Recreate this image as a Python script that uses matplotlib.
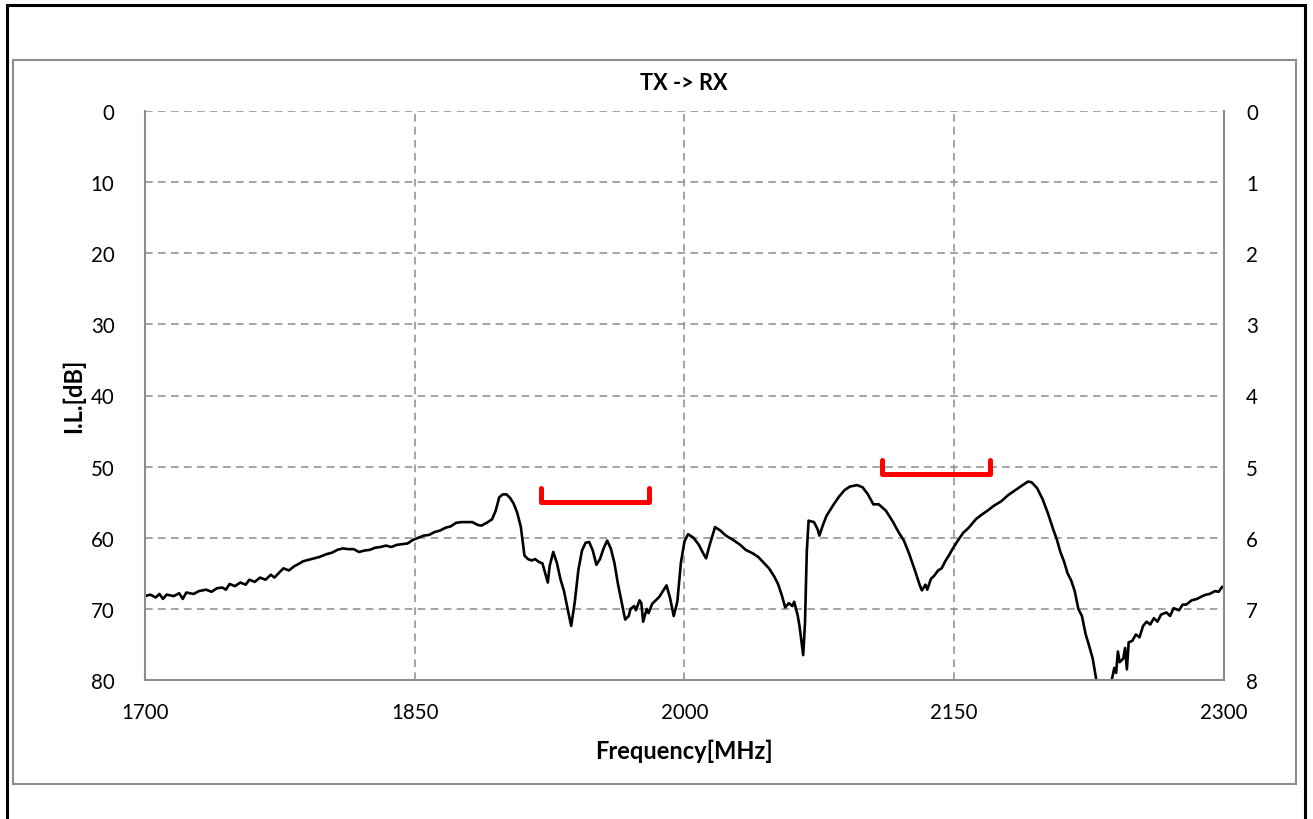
import matplotlib
matplotlib.use("Agg")
import matplotlib.pyplot as plt
from matplotlib.patches import Rectangle

# measured curve, TX -> RX insertion loss
freq = [1700, 1703, 1706, 1708, 1710, 1712, 1716, 1719, 1721, 1723, 1727, 1730, 1734, 1737,
        1740, 1743, 1745, 1747, 1750, 1753, 1756, 1758, 1761, 1764, 1767, 1770, 1772, 1775,
        1777, 1780, 1783, 1786, 1788, 1791, 1794, 1797, 1801, 1804, 1807, 1810, 1813, 1816,
        1819, 1822, 1825, 1828, 1831, 1834, 1837, 1840, 1843, 1846, 1849, 1852, 1855, 1858,
        1861, 1864, 1867, 1870, 1873, 1876, 1879, 1882, 1885, 1887, 1890, 1893, 1895, 1897,
        1899, 1901, 1903, 1905, 1907, 1909, 1910, 1911, 1913, 1915, 1917, 1919, 1921, 1922,
        1924, 1925, 1927, 1929, 1931, 1933, 1935, 1937, 1939, 1941, 1943, 1945, 1947, 1949,
        1951, 1953, 1955, 1957, 1959, 1961, 1963, 1965, 1967, 1969, 1970, 1972, 1973, 1975,
        1976, 1977, 1979, 1980, 1982, 1984, 1986, 1988, 1990, 1992, 1994, 1996, 1998, 2000,
        2002, 2005, 2008, 2010, 2012, 2014, 2017, 2020, 2023, 2027, 2031, 2034, 2038, 2041,
        2044, 2047, 2050, 2052, 2054, 2056, 2058, 2060, 2061, 2063, 2064, 2066, 2067, 2068,
        2069, 2072, 2074, 2075, 2077, 2079, 2083, 2086, 2089, 2092, 2096, 2099, 2102, 2105,
        2108, 2112, 2116, 2119, 2122, 2125, 2128, 2131, 2132, 2134, 2135, 2137, 2139, 2141,
        2143, 2145, 2147, 2149, 2152, 2155, 2158, 2162, 2165, 2169, 2172, 2176, 2180, 2184,
        2188, 2191, 2193, 2196, 2199, 2202, 2205, 2207, 2209, 2211, 2213, 2215, 2217, 2219,
        2221, 2223, 2225, 2227, 2229, 2231, 2234, 2237, 2238, 2239, 2240, 2241, 2242, 2244,
        2245, 2246, 2247, 2249, 2251, 2253, 2255, 2257, 2259, 2261, 2263, 2265, 2268, 2270,
        2272, 2275, 2277, 2279, 2282, 2285, 2288, 2290, 2292, 2295, 2297, 2299, 2300]
il_db = [68.2, 68.0, 68.4, 67.9, 68.6, 68.0, 68.2, 67.8, 68.6, 67.7, 67.9, 67.5, 67.3, 67.6,
         67.1, 67.0, 67.3, 66.5, 66.8, 66.3, 66.6, 65.9, 66.2, 65.6, 65.9, 65.2, 65.6, 64.8,
         64.3, 64.6, 64.0, 63.6, 63.3, 63.1, 62.9, 62.7, 62.3, 62.1, 61.7, 61.5, 61.6, 61.6,
         62.0, 61.8, 61.7, 61.4, 61.3, 61.1, 61.3, 61.0, 60.9, 60.8, 60.3, 60.0, 59.7, 59.6,
         59.2, 59.0, 58.6, 58.4, 57.9, 57.8, 57.8, 57.8, 58.2, 58.3, 57.9, 57.4, 56.2, 54.3,
         53.9, 53.9, 54.4, 55.2, 56.5, 58.5, 60.5, 62.5, 63.0, 63.2, 63.0, 63.4, 63.6, 64.5,
         66.3, 64.0, 62.0, 63.5, 65.8, 67.5, 70.0, 72.4, 69.0, 64.5, 61.8, 60.7, 60.6, 61.8,
         63.8, 63.0, 61.5, 60.4, 61.5, 63.5, 66.5, 69.0, 71.5, 71.0, 70.0, 69.6, 70.2, 68.8,
         69.2, 71.8, 70.0, 70.6, 69.3, 68.8, 68.3, 67.5, 66.7, 68.5, 71.0, 69.0, 63.5, 60.5,
         59.5, 60.0, 61.0, 62.0, 62.9, 61.0, 58.5, 59.0, 59.7, 60.3, 61.0, 61.7, 62.2, 62.7,
         63.5, 64.3, 65.5, 66.5, 68.0, 69.8, 69.2, 69.6, 69.0, 71.0, 72.5, 76.5, 72.0, 62.0,
         57.6, 57.8, 58.8, 59.7, 58.2, 56.9, 55.3, 54.2, 53.3, 52.8, 52.6, 52.9, 53.9, 55.3,
         55.3, 56.2, 57.8, 59.2, 60.4, 62.3, 64.5, 66.8, 67.4, 66.6, 67.3, 65.8, 65.3, 64.6,
         64.3, 63.3, 62.5, 61.6, 60.4, 59.3, 58.6, 57.4, 56.8, 56.1, 55.5, 54.9, 54.0, 53.3,
         52.6, 52.1, 52.2, 53.0, 54.5, 56.5, 58.8, 60.2, 62.0, 63.3, 65.0, 66.0, 67.5, 70.0,
         71.0, 73.5, 75.2, 77.0, 80.0, 82.0, 83.0, 80.5, 79.5, 78.3, 79.0, 76.0, 77.5, 77.0,
         75.5, 78.5, 74.7, 74.5, 73.6, 74.0, 72.4, 71.8, 72.2, 71.3, 71.8, 70.8, 70.5, 71.0,
         69.9, 70.2, 69.4, 69.4, 68.8, 68.6, 68.2, 68.0, 67.9, 67.5, 67.6, 66.9, 67.0]

# red spec brackets
spec1_x = [1920, 1920, 1980, 1980]
spec1_y = [53, 55, 55, 53]
spec2_x = [2110, 2110, 2170, 2170]
spec2_y = [49, 51, 51, 49]

xticks = [1700, 1850, 2000, 2150, 2300]
yticks_left = [0, 10, 20, 30, 40, 50, 60, 70, 80]
yticks_right = [0, 1, 2, 3, 4, 5, 6, 7, 8]

plt.rcParams['font.family'] = ['Lato', 'DejaVu Sans']
gray = '#8c8c8c'

fig = plt.figure(figsize=(13.13, 8.20), dpi=100)
W, H = 1313, 820

# outer frames (black chart border, gray chart area)
fig.patches.append(Rectangle((7 / W, -0.01), (1305 - 7) / W, (820 - 6) / H + 0.01,
                             transform=fig.transFigure, fill=False, edgecolor='black', lw=2.2))
fig.patches.append(Rectangle((13 / W, 1 - 785 / H), (1296 - 13) / W, (785 - 61) / H,
                             transform=fig.transFigure, fill=False, edgecolor=gray, lw=1.5))

ax = fig.add_axes([145 / W, 1 - 681 / H, (1224 - 145) / W, (681 - 112) / H])
ax.plot(freq, il_db, color='black', lw=1.9)
ax.plot(spec1_x, spec1_y, color='#ff0000', lw=3.6, solid_joinstyle='round', solid_capstyle='round')
ax.plot(spec2_x, spec2_y, color='#ff0000', lw=3.6, solid_joinstyle='round', solid_capstyle='round')

ax.set_xlim(1700, 2300)
ax.set_ylim(80, 0)
ax.set_xticks(xticks)
ax.set_yticks(yticks_left)
ax.grid(True, color=gray, linestyle=(0, (5, 3.5)), lw=1.1)
ax.tick_params(length=0, labelsize=14.8, colors='black')
ax.tick_params(axis='y', pad=22)
ax.tick_params(axis='x', pad=16)
for s in ['left', 'bottom', 'right']:
    ax.spines[s].set_color(gray)
    ax.spines[s].set_linewidth(1.5)
ax.spines['top'].set_visible(False)

ax2 = ax.twinx()
ax2.set_ylim(8, 0)
ax2.set_yticks(yticks_right)
ax2.tick_params(length=0, labelsize=14.8, pad=16)
for s in ax2.spines:
    ax2.spines[s].set_visible(False)

fig.text(684 / W, 1 - 84 / H, 'TX -> RX', ha='center', va='center', fontsize=15.7, fontweight='bold')
fig.text(684 / W, 1 - 751 / H, 'Frequency[MHz]', ha='center', va='center', fontsize=17, fontweight='bold')
fig.text(73 / W, 1 - 396 / H, 'I.L.[dB]', ha='center', va='center', rotation=90, fontsize=17, fontweight='bold')

fig.savefig('out.png', dpi=100)
